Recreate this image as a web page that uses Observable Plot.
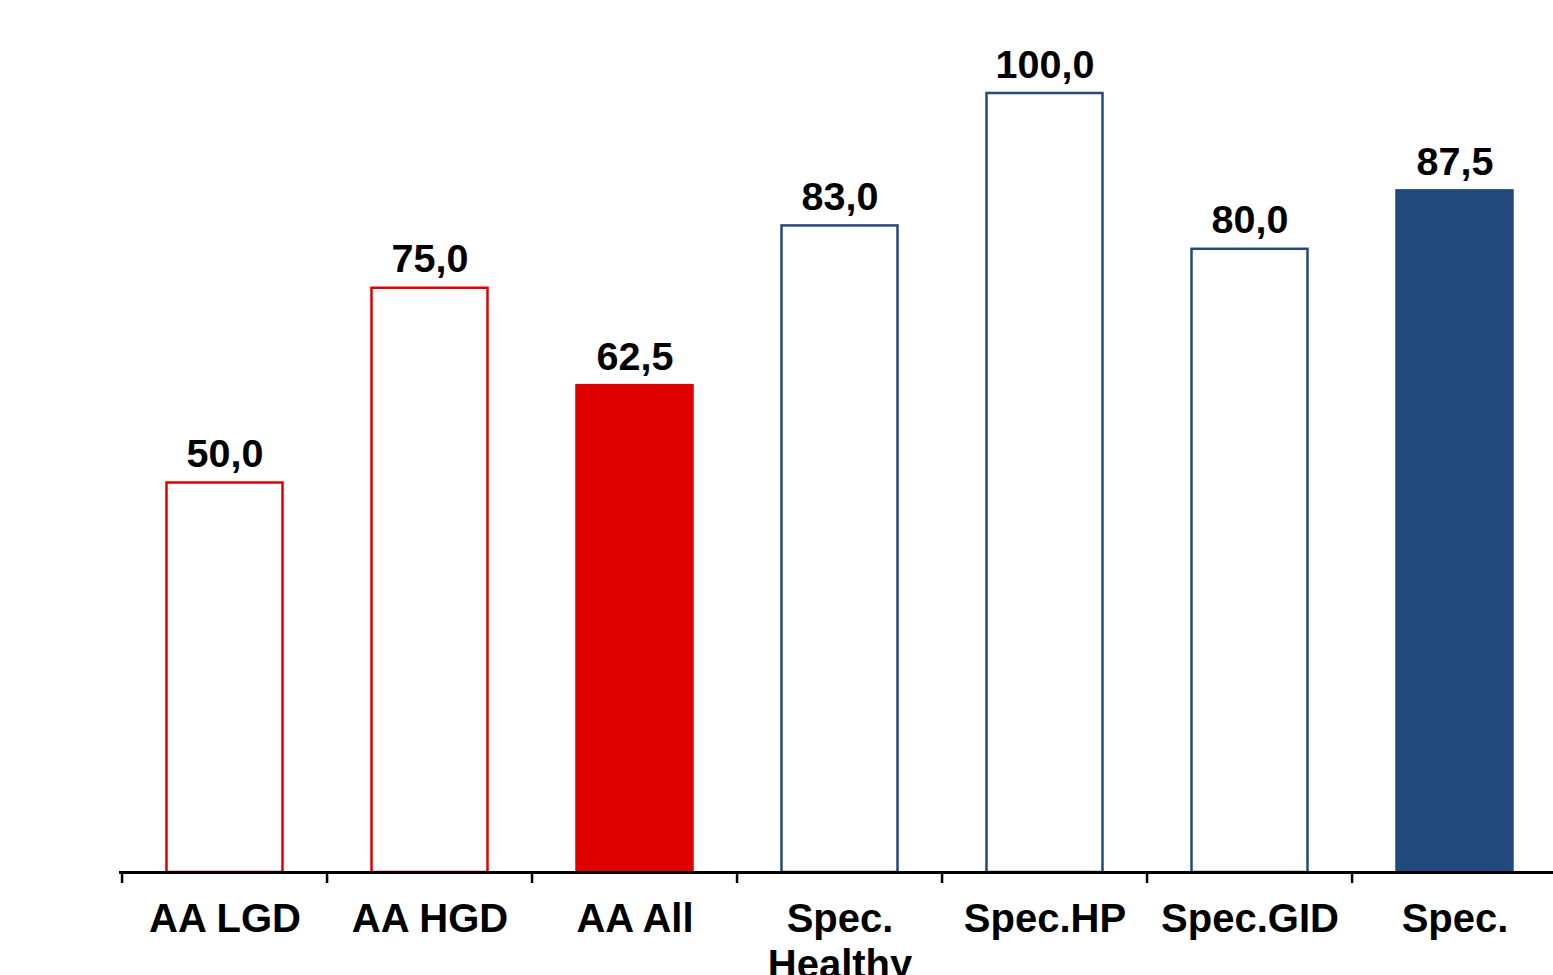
<!DOCTYPE html>
<html>
<head>
<meta charset="utf-8">
<script src="https://cdn.jsdelivr.net/npm/d3@7"></script>
<script src="https://cdn.jsdelivr.net/npm/@observablehq/plot@0.6"></script>
<style>
  html, body { margin: 0; padding: 0; background: #fff; overflow: hidden; }
  #chart svg { display: block; }
</style>
</head>
<body>
<div id="chart"></div>
<script>
// Categories, values and the labels printed above each bar
const categories = ["AA LGD", "AA HGD", "AA All", "Spec. Healthy", "Spec.HP", "Spec.GID", "Spec."];
const tickLabels = ["AA LGD", "AA HGD", "AA All", "Spec.\nHealthy", "Spec.HP", "Spec.GID", "Spec."];
const values = [50.0, 75.0, 62.5, 83.0, 100.0, 80.0, 87.5];
const valueLabels = ["50,0", "75,0", "62,5", "83,0", "100,0", "80,0", "87,5"];
const groups = ["AA", "AA", "AA", "Spec", "Spec", "Spec", "Spec"];
const summary = [false, false, true, false, false, false, true];

const RED = "#e00000";
const NAVY = "#224a7c";

const data = categories.map((cat, i) => ({
  cat,
  value: values[i],
  label: valueLabels[i],
  stroke: groups[i] === "AA" ? RED : NAVY,
  fill: summary[i] ? (groups[i] === "AA" ? RED : NAVY) : "#ffffff"
}));

const width = 1553, height = 975;
const marginLeft = 119, marginRight = -7;
const step = (width - marginLeft - marginRight) / categories.length;
const font = "'Liberation Sans', Arial, Helvetica, sans-serif";

const chart = Plot.plot({
  width, height,
  marginLeft, marginRight,
  marginTop: 93, marginBottom: 103,
  style: { fontFamily: font, background: "#fff", color: "#000", overflow: "hidden" },
  x: { domain: categories, padding: 0, label: null },
  y: { domain: [0, 100], axis: null },
  color: { type: "identity" },
  marks: [
    Plot.barY(data, {
      x: "cat", y: "value",
      fill: "fill", stroke: "stroke", strokeWidth: 2.5,
      insetLeft: 44.5, insetRight: 44.5
    }),
    Plot.text(data, {
      x: "cat", y: "value", text: "label",
      lineAnchor: "bottom", dy: -16,
      fontSize: 39.5, fontWeight: "bold", fill: "#000"
    }),
    // category labels centred under each bar
    Plot.axisX({
      label: null,
      tickSize: 0, tickPadding: 27,
      tickFormat: d => tickLabels[categories.indexOf(d)],
      fontSize: 40, fontWeight: "bold", lineHeight: 1.15, fill: "#000"
    }),
    // tick marks at the band boundaries
    Plot.axisX({
      label: null,
      tickSize: 11, dx: -step / 2, tickFormat: () => "",
      stroke: "#000", strokeWidth: 2.5
    }),
    Plot.ruleY([0], { stroke: "#000", strokeWidth: 3 })
  ]
});

document.getElementById("chart").appendChild(chart);
</script>
</body>
</html>
